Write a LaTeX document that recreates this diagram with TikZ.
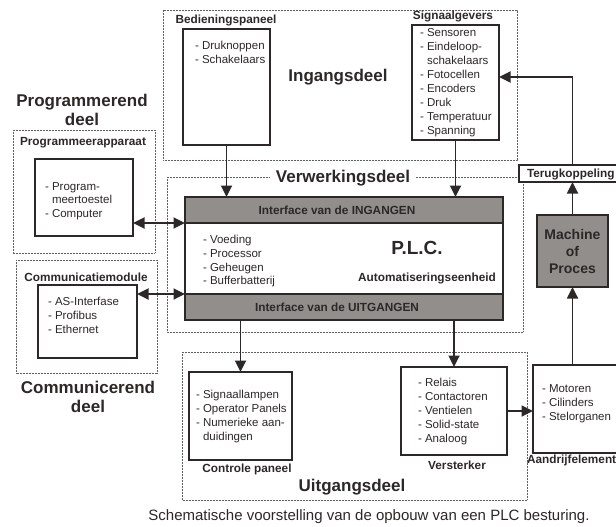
\documentclass[tikz,border=0pt]{standalone}
\usepackage{fontspec}
\setmainfont{Liberation Sans}
\usetikzlibrary{arrows.meta}
\definecolor{ink}{RGB}{45,40,40}
\definecolor{shade}{RGB}{146,142,140}
\definecolor{dotc}{RGB}{95,95,95}
\begin{document}
\begin{tikzpicture}[x=1pt,y=-1pt,
  every node/.style={text=ink, inner sep=0pt, outer sep=0pt},
  box/.style={draw=ink, line width=1.8pt, fill=white, anchor=north west},
  gbox/.style={box, fill=shade},
  region/.style={draw=dotc, line width=0.7pt, dash pattern=on 0.7pt off 0.8pt},
  lst/.style={anchor=north west, align=left, font=\fontsize{11.5}{14}\selectfont},
  lbl/.style={font=\bfseries\fontsize{11.8}{14}\selectfont},
  big/.style={font=\bfseries\fontsize{17}{19}\selectfont, align=center},
  arr/.style={draw=ink, line width=1.8pt, -{Triangle[length=11.5pt,width=11pt]}},
  darr/.style={draw=ink, line width=1.8pt, {Triangle[length=11.5pt,width=11pt]}-{Triangle[length=11.5pt,width=11pt]}},
]
\useasboundingbox (0,0) rectangle (616,527);
\clip (0,0) rectangle (616,527);

% dotted regions
\draw[region] (163,10) rectangle (517,160);
\draw[region] (167,177) rectangle (523,332);
\draw[region] (13,130) rectangle (155,253);
\draw[region] (16,260) rectangle (157,373);
\draw[region] (182,352) rectangle (527,500);

% Ingangsdeel
\node[lbl] (bedl) at (226,20) {Bedieningspaneel};
\node[box, minimum width=87pt, minimum height=116pt] (bed) at (183,29) {};
\node[lst] (bedt) at (195,41.5) {- Druknoppen\\- Schakelaars};
\node[lbl] (sigl) at (453,16) {Signaalgevers};
\node[box, minimum width=87pt, minimum height=115pt] (sig) at (412,25) {};
\node[lst] (sigt) at (420,28.5) {- Sensoren\\- Eindeloop-\\\phantom{- }schakelaars\\- Fotocellen\\- Encoders\\- Druk\\- Temperatuur\\- Spanning};
\node[big] (ingd) at (338,77) {Ingangsdeel};

% Verwerkingsdeel
\node[big, fill=white, inner xsep=6pt, inner ysep=1pt] (verw) at (343,178) {Verwerkingsdeel};
\node[box, minimum width=318pt, minimum height=123pt] (plc) at (185,197) {};
\node[gbox, minimum width=318pt, minimum height=26pt] (ing) at (185,197) {};
\node[gbox, minimum width=318pt, minimum height=26pt] (uit) at (185,294) {};
\node[lbl] (ingt) at (337,210) {Interface van de INGANGEN};
\node[lbl] (uitt) at (337,307) {Interface van de UITGANGEN};
\node[lst, font=\fontsize{11.5}{13.7}\selectfont] (plct) at (203,235.5) {- Voeding\\- Processor\\- Geheugen\\- Bufferbatterij};
\node[font=\bfseries\fontsize{19}{21}\selectfont] (plcn) at (417,248) {P.L.C.};
\node[lbl] (auto) at (427,278) {Automatiseringseenheid};

% Programmerend deel
\node[big] (progd) at (82,110) {Programmerend\\deel};
\node[lbl] (progl) at (83,143) {Programmeerapparaat};
\node[box, minimum width=98pt, minimum height=77pt] (prog) at (35,159) {};
\node[lst, font=\fontsize{11.5}{13.3}\selectfont] (progt) at (45,182.5) {- Program-\\\phantom{- }meertoestel\\- Computer};

% Communicerend deel
\node[lbl] (comml) at (86,277) {Communicatiemodule};
\node[box, minimum width=99pt, minimum height=73pt] (comm) at (38,285) {};
\node[lst] (commt) at (48,297.5) {- AS-Interfase\\- Profibus\\- Ethernet};
\node[big] (commd) at (88,397) {Communicerend\\deel};

% Feedback / machine
\node[box, minimum width=110pt, minimum height=17pt] (terug) at (519,165) {};
\node[lbl, anchor=west] (terugt) at (527,174) {Terugkoppeling};
\node[gbox, minimum width=71pt, minimum height=72pt] (mach) at (537,215) {};
\node[font=\bfseries\fontsize{14}{17}\selectfont, align=center] (macht) at (572.5,251) {Machine\\of\\Proces};

% Uitgangsdeel
\node[box, minimum width=103pt, minimum height=88pt] (ctrl) at (189,372) {};
\node[lst] (ctrlt) at (196,390.5) {- Signaallampen\\- Operator Panels\\- Numerieke aan-\\\phantom{- }duidingen};
\node[lbl] (ctrll) at (247,469) {Controle paneel};
\node[box, minimum width=106pt, minimum height=88pt] (vers) at (401,367) {};
\node[lst] (verst) at (418,378.5) {- Relais\\- Contactoren\\- Ventielen\\- Solid-state\\- Analoog};
\node[lbl] (versl) at (457,465) {Versterker};
\node[box, minimum width=95pt, minimum height=88pt] (aand) at (533,365) {};
\node[lst] (aandt) at (542,384.5) {- Motoren\\- Cilinders\\- Stelorganen};
\node[lbl, anchor=west] (aandl) at (527,460) {Aandrijfelement};
\node[big] (uitd) at (352,487) {Uitgangsdeel};

% caption
\node[font=\fontsize{15}{17}\selectfont] (cap) at (369,517) {Schematische voorstelling van de opbouw van een PLC besturing.};

% connectors
\draw[arr] (bed.south) -- (bed.south |- plc.north);
\draw[arr] (sig.south) -- (sig.south |- plc.north);
\draw[darr] (prog.east |- ing.south west) -- (ing.south west);
\draw[darr] (comm.east |- uit.north west) -- (uit.north west);
\draw[arr] (ctrl.north |- plc.south) -- (ctrl.north);
\draw[arr] (vers.north |- plc.south) -- (vers.north);
\draw[arr] (vers.east) -- (vers.east -| aand.west);
\draw[arr] (mach.south |- aand.north) -- (mach.south);
\draw[arr] (mach.north) -- (mach.north |- terug.south);
\draw[arr] (mach.north |- terug.north) |- ([yshift=5.5pt]sig.east);
\end{tikzpicture}
\end{document}
